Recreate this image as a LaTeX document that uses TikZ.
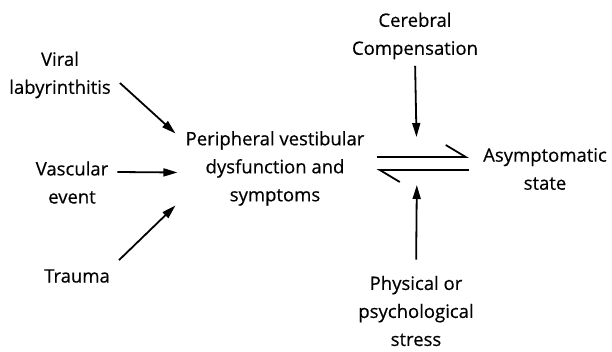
\documentclass[tikz,border=0pt]{standalone}
\usepackage{fontspec}
\setmainfont{Open Sans}[FakeBold=0.4]
\usetikzlibrary{arrows.meta}

\begin{document}
\begin{tikzpicture}[x=1pt,y=1pt,
    every node/.style={align=center,inner sep=0pt,
      font=\fontsize{18.5}{28}\selectfont},
    arr/.style={-{Triangle[length=14pt,width=8pt]},line width=1.8pt},
    harp/.style={-{Straight Barb[harpoon,length=20pt,width=24pt]},line width=1.8pt}]
  \useasboundingbox (0,0) rectangle (612,351);
  % causes on the left
  \node (viral) at (60,276) {Viral\\labyrinthitis};
  \node (vasc) at (72,168.5) {Vascular\\event};
  \node (trauma) at (77,75) {Trauma};
  % the two states
  \node (perif) at (275,182.5) {Peripheral vestibular\\dysfunction and\\symptoms};
  \node (asym) at (545,182) {Asymptomatic\\state};
  % what pushes the balance
  \node (cereb) at (415,315) {Cerebral\\Compensation};
  \node (phys) at (416,40) {Physical or\\psychological\\stress};
  \coordinate (eq) at (417,187.5);
  % arrows
  \draw[arr] ([shift={(9pt,-8pt)}]viral.east) -- ([shift={(-10pt,35pt)}]perif.west);
  \draw[arr] ([shift={(9pt,10.5pt)}]vasc.east) -- ([shift={(-8pt,-4pt)}]perif.west);
  \draw[arr] ([shift={(9pt,9pt)}]trauma.north east) -- ([shift={(-10pt,-37pt)}]perif.west);
  \draw[arr,shorten <=6.5pt,shorten >=26.5pt] (cereb.south) -- (eq);
  \draw[arr,shorten <=16pt,shorten >=21.5pt] (phys.north) -- (eq);
  \draw[harp,shorten <=12pt,shorten >=14pt] ([yshift=11.5pt]perif.east) -- ([yshift=12pt]asym.west);
  \draw[harp,shorten <=14pt,shorten >=12pt] ([yshift=-1pt]asym.west) -- ([yshift=-1.5pt]perif.east);
\end{tikzpicture}
\end{document}
